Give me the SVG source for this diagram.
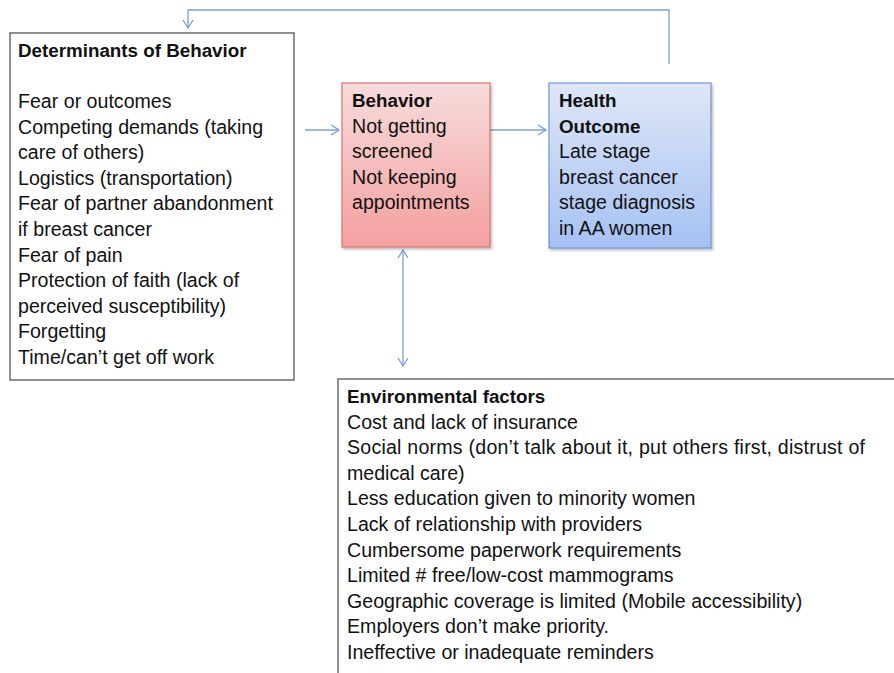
<svg xmlns="http://www.w3.org/2000/svg" width="894" height="673" viewBox="0 0 894 673">
<defs>
<linearGradient id="gRed" x1="0" y1="0" x2="0" y2="1">
<stop offset="0" stop-color="#f6dcdc"/>
<stop offset="1" stop-color="#f4a09f"/>
</linearGradient>
<linearGradient id="gBlue" x1="0" y1="0" x2="0" y2="1">
<stop offset="0" stop-color="#dfe7f7"/>
<stop offset="1" stop-color="#a5c1f3"/>
</linearGradient>
<marker id="arr" viewBox="0 0 10 12" refX="9" refY="6" markerWidth="10" markerHeight="12" markerUnits="userSpaceOnUse" orient="auto-start-reverse">
<path d="M1,1 L9,6 L1,11" fill="none" stroke="#7a9fd8" stroke-width="1.3"/>
</marker>
<filter id="sh" x="-10%" y="-10%" width="130%" height="130%">
<feDropShadow dx="1.5" dy="2" stdDeviation="1.2" flood-color="#000" flood-opacity="0.25"/>
</filter>
</defs>
<style>
text{font-family:"Liberation Sans",Arial,sans-serif;font-size:19.6px;fill:#111}
.b{font-weight:bold;font-size:18.8px}
.box{fill:#fff;stroke:#555;stroke-width:1.3}
.conn{fill:none;stroke:#7a9fd8;stroke-width:1.3}
</style>
<rect width="894" height="673" fill="#fff"/>
<g id="connectors">
<polyline class="conn" points="669,64 669,10 188,10 188,28" marker-end="url(#arr)"/>
<line class="conn" x1="305" y1="130" x2="339" y2="130" marker-end="url(#arr)"/>
<line class="conn" x1="490" y1="130" x2="546" y2="130" marker-end="url(#arr)"/>
<line class="conn" x1="403" y1="250" x2="403" y2="366" marker-start="url(#arr)" marker-end="url(#arr)"/>
</g>
<g id="determinants">
<rect class="box" x="10" y="33" width="284" height="347"/>
<text class="b" x="18" y="57">Determinants of Behavior</text>
<text x="18" y="108">Fear or outcomes</text>
<text x="18" y="133.6">Competing demands (taking</text>
<text x="18" y="159.2">care of others)</text>
<text x="18" y="184.8">Logistics (transportation)</text>
<text x="18" y="210.4">Fear of partner abandonment</text>
<text x="18" y="236">if breast cancer</text>
<text x="18" y="261.6">Fear of pain</text>
<text x="18" y="287.2">Protection of faith (lack of</text>
<text x="18" y="312.8">perceived susceptibility)</text>
<text x="18" y="338.4">Forgetting</text>
<text x="18" y="364">Time/can’t get off work</text>
</g>
<g id="behavior">
<rect x="342" y="83" width="148" height="164" fill="url(#gRed)" stroke="#d9726f" stroke-width="1.2" filter="url(#sh)"/>
<text class="b" x="352" y="107">Behavior</text>
<text x="352" y="132.6">Not getting</text>
<text x="352" y="158.2">screened</text>
<text x="352" y="183.8">Not keeping</text>
<text x="352" y="209.4">appointments</text>
</g>
<g id="health">
<rect x="549" y="83" width="162" height="165" fill="url(#gBlue)" stroke="#6e95d6" stroke-width="1.2" filter="url(#sh)"/>
<text class="b" x="559" y="107">Health</text>
<text class="b" x="559" y="132.6">Outcome</text>
<text x="559" y="158.2">Late stage</text>
<text x="559" y="183.8">breast cancer</text>
<text x="559" y="209.4">stage diagnosis</text>
<text x="559" y="235">in AA women</text>
</g>
<g id="environmental">
<rect class="box" x="338" y="379" width="600" height="320"/>
<text class="b" x="347" y="403">Environmental factors</text>
<text x="347" y="428.6">Cost and lack of insurance</text>
<text x="347" y="454.2" textLength="518">Social norms (don’t talk about it, put others first, distrust of</text>
<text x="347" y="479.8">medical care)</text>
<text x="347" y="505.4">Less education given to minority women</text>
<text x="347" y="531">Lack of relationship with providers</text>
<text x="347" y="556.6">Cumbersome paperwork requirements</text>
<text x="347" y="582.2">Limited # free/low-cost mammograms</text>
<text x="347" y="607.8">Geographic coverage is limited  (Mobile accessibility)</text>
<text x="347" y="633.4">Employers don’t make priority.</text>
<text x="347" y="659">Ineffective or inadequate reminders</text>
</g>
</svg>
